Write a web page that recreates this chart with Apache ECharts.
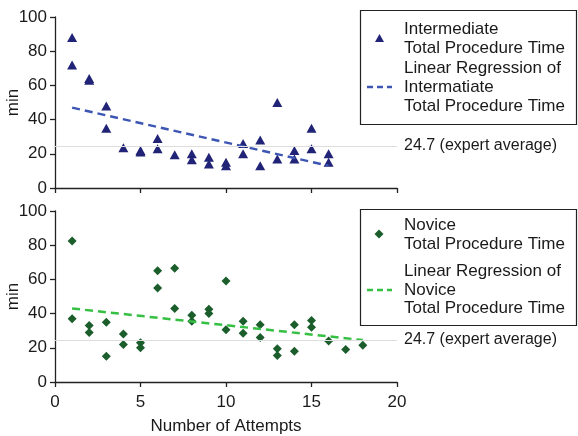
<!DOCTYPE html>
<html><head><meta charset="utf-8">
<script src="https://cdn.jsdelivr.net/npm/echarts@6/dist/echarts.min.js"></script>
<style>html,body{margin:0;padding:0;background:#fff}#c{width:578px;height:436px}</style>
</head><body><div id="c"></div>
<script>
const intermediateX = [1,1,2,2,3,3,4,5,5,6,6,7,8,8,9,9,10,10,11,11,12,12,13,13,14,14,15,15,16,16];
const intermediateY = [88,72,64,63,48,35,23.5,22,21,29,23,19.5,20,16.5,18,14,15,13,26,20,28,13,50,17,22,17,35,23,20,15];
const noviceX = [1,1,2,2,3,3,4,4,5,5,6,6,7,7,8,8,9,9,10,10,11,11,12,12,13,13,14,14,15,15,16,17,18];
const noviceY = [82.5,37,33,29,35,15,28,22,23,20,65,55,66.5,43,39,35.5,42.5,40,59,30.5,35.5,28.5,33.5,26,19.5,15.5,33.5,18,36,32,24,19,21.5];
const interRegX = [1,16];
const interRegY = [47,13];
const noviceRegX = [1,18];
const noviceRegY = [43,24.5];
const expertAverage = 24.7;
const expertLabel = '24.7 (expert average)';
const xAxisName = 'Number of Attempts';
const yAxisName = 'min';
const legendTop = ['Intermediate', 'Total Procedure Time', 'Linear Regression of', 'Intermatiate', 'Total Procedure Time'];
const legendBottom = ['Novice', 'Total Procedure Time', 'Linear Regression of', 'Novice', 'Total Procedure Time'];

const zip = (a, b) => a.map((v, i) => [v, b[i]]);
const FONT = 'Liberation Sans, Arial, sans-serif';
const TXT = '#1a1a1a';

function xAx(idx, showLabel) {
  return {
    type: 'value', gridIndex: idx, min: 0, max: 20, interval: 5,
    axisLine: { show: true, onZero: false, lineStyle: { color: '#222', width: 1.3 } },
    axisTick: { show: true, length: 5, lineStyle: { color: '#222', width: 1.3 } },
    axisLabel: { show: showLabel, fontSize: 17, color: TXT, fontFamily: FONT, margin: 12 },
    splitLine: { show: false },
    name: showLabel ? xAxisName : '', nameLocation: 'middle', nameGap: 36, nameMoveOverlap: false,
    nameTextStyle: { fontSize: 17, color: TXT, fontFamily: FONT }
  };
}
function yAx(idx) {
  return {
    type: 'value', gridIndex: idx, min: 0, max: 100, interval: 20,
    axisLine: { show: true, onZero: false, lineStyle: { color: '#222', width: 1.3 } },
    axisTick: { show: true, length: 5, lineStyle: { color: '#222', width: 1.3 } },
    axisLabel: { fontSize: 17, color: TXT, fontFamily: FONT, margin: 8 },
    splitLine: { show: false },
    name: yAxisName, nameLocation: 'middle', nameGap: 33, nameRotate: 90, nameMoveOverlap: false,
    nameTextStyle: { fontSize: 17, color: TXT, fontFamily: FONT }
  };
}
function refLine() {
  return {
    silent: true, symbol: 'none',
    lineStyle: { color: '#dddddd', width: 1, type: 'solid' },
    label: { show: true, position: 'end', formatter: expertLabel, fontSize: 16, color: TXT, fontFamily: FONT, distance: 7 },
    data: [{ yAxis: expertAverage }]
  };
}

function legendGraphic(top, height, ys, symY, dashY, lines, sym, symColor, dashColor) {
  const els = [];
  els.push({ type: 'rect', shape: { x: 360.5, y: top + 0.5, width: 216, height: height },
    style: { fill: '#fff', stroke: '#222', lineWidth: 1.2 }, z: 10 });
  lines.forEach((t, i) => els.push({ type: 'text', x: 404, y: top + ys[i], z: 11,
    style: { text: t, font: '17px ' + FONT, fill: TXT, textVerticalAlign: 'middle' } }));
  if (sym === 'triangle') {
    els.push({ type: 'polygon', z: 11, shape: { points: [[379.5, top + symY - 4.5], [375, top + symY + 3.5], [384, top + symY + 3.5]] }, style: { fill: symColor } });
  } else {
    els.push({ type: 'polygon', z: 11, shape: { points: [[379, top + symY - 4.5], [383.5, top + symY], [379, top + symY + 4.5], [374.5, top + symY]] }, style: { fill: symColor } });
  }
  els.push({ type: 'line', z: 11, shape: { x1: 367, y1: top + dashY, x2: 392, y2: top + dashY },
    style: { stroke: dashColor, lineWidth: 2.5, lineDash: [6, 4] } });
  return els;
}

const chart = echarts.init(document.getElementById('c'), null, { renderer: 'canvas' });
chart.setOption({
  animation: false,
  backgroundColor: '#fff',
  textStyle: { fontFamily: FONT },
  grid: [
    { left: 55, top: 17, width: 342, height: 171, containLabel: false, outerBoundsMode: 'none' },
    { left: 55, top: 211, width: 342, height: 171, containLabel: false, outerBoundsMode: 'none' }
  ],
  xAxis: [xAx(0, false), xAx(1, true)],
  yAxis: [yAx(0), yAx(1)],
  series: [
    { type: 'scatter', name: 'Intermediate', xAxisIndex: 0, yAxisIndex: 0, symbol: 'triangle', symbolSize: [10, 9],
      itemStyle: { color: '#212376', opacity: 1 }, data: zip(intermediateX, intermediateY), markLine: refLine(), z: 3 },
    { type: 'line', name: 'Linear Regression of Intermatiate', xAxisIndex: 0, yAxisIndex: 0, showSymbol: false, symbol: 'none',
      lineStyle: { color: '#3d56b3', width: 2.5, type: [8, 5] }, data: zip(interRegX, interRegY), z: 4 },
    { type: 'scatter', name: 'Novice', xAxisIndex: 1, yAxisIndex: 1, symbol: 'diamond', symbolSize: 9,
      itemStyle: { color: '#1b5e2c', opacity: 1 }, data: zip(noviceX, noviceY), markLine: refLine(), z: 3 },
    { type: 'line', name: 'Linear Regression of Novice', xAxisIndex: 1, yAxisIndex: 1, showSymbol: false, symbol: 'none',
      lineStyle: { color: '#35c043', width: 2.5, type: [8, 5] }, data: zip(noviceRegX, noviceRegY), z: 4 }
  ],
  graphic: [].concat(
    legendGraphic(10, 114, [19, 38, 58, 77, 96], 28.5, 77, legendTop, 'triangle', '#212376', '#3d56b3'),
    legendGraphic(209, 116, [16, 35, 62, 81, 99], 25, 81, legendBottom, 'diamond', '#1b5e2c', '#35c043')
  )
});
</script></body></html>
